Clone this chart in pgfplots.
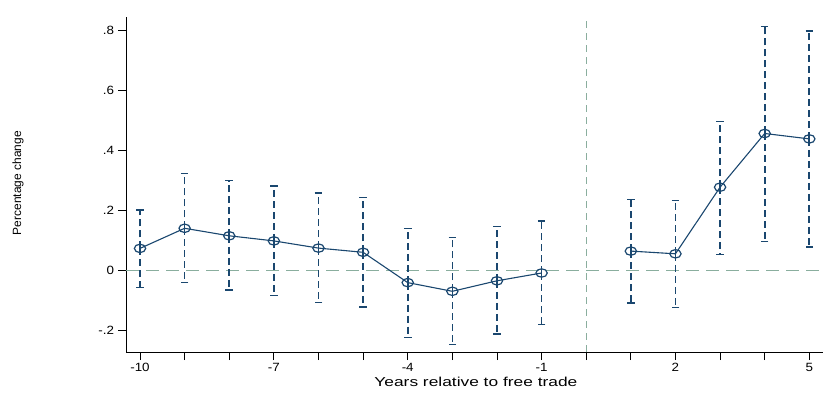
\documentclass[border=0pt]{standalone}
\usepackage{pgfplots}
\usepackage{pgfplotstable}
\pgfplotsset{compat=1.18}
\usepackage{fontspec}
\setmainfont{Liberation Sans}
\definecolor{stnavy}{HTML}{1A476F}
\definecolor{refline}{HTML}{8AAE9E}

% event-study estimates with 95% bounds
\pgfplotstableread{
x   y      lo      hi
-10 0.072 -0.058  0.200
-9  0.139 -0.042  0.322
-8  0.114 -0.067  0.298
-7  0.097 -0.086  0.280
-6  0.073 -0.109  0.257
-5  0.059 -0.123  0.241
-4 -0.042 -0.224  0.139
-3 -0.071 -0.248  0.108
-2 -0.036 -0.213  0.144
-1 -0.010 -0.181  0.163
}\pre
\pgfplotstableread{
x   y      lo      hi
1   0.063 -0.110  0.235
2   0.054 -0.126  0.232
3   0.276  0.052  0.496
4   0.455  0.095  0.812
5   0.437  0.077  0.797
}\post

\pgfplotsset{
  evstyle/.style={
    stnavy, line width=1.1bp,
    mark=o, mark size=4.2bp,
    mark options={solid, line width=1.2bp, xscale=1.35},
    error bars/.cd, y dir=both, y explicit,
    error bar style={dash pattern=on 7bp off 4bp, line width=1.7bp},
    error mark options={solid, rotate=90, mark size=3.8bp, line width=1.3bp},
  },
}

\begin{document}
\begin{tikzpicture}
\path[use as bounding box] (0,0) rectangle (832bp,400bp);
\begin{axis}[
  at={(126bp,48bp)}, anchor=south west,
  scale only axis, width=697bp, height=335bp,
  xmin=-10.314, xmax=5.307, ymin=-0.2733, ymax=0.8433,
  axis lines=left,
  axis line style={-, line width=1bp},
  every outer x axis line/.append style={-},
  every outer y axis line/.append style={-},
  xtick pos=bottom, ytick pos=left,
  tick align=outside, major tick length=8bp,
  tick style={black, line width=0.9bp},
  xtick={-10,...,5},
  xticklabels={-10,,,-7,,,-4,,,-1,,,2,,,5},
  ytick={-0.2,0,0.2,0.4,0.6,0.8},
  yticklabels={-.2,0,.2,.4,.6,.8},
  tick label style={font=\fontsize{12}{12}\selectfont},
  xticklabel style={xscale=1.12},
  yticklabel style={xscale=1.12},
  xlabel={Years relative to free trade},
  xlabel style={at={(axis description cs:0.502,0)}, anchor=base,
    yshift=-34bp, font=\fontsize{13}{13}\selectfont, xscale=1.34},
  ylabel={Percentage change},
  ylabel style={at={(axis description cs:-0.155,0.504)}, anchor=center,
    font=\fontsize{12}{12}\selectfont},
  clip=false,
]
\addplot[refline, line width=1bp, dash pattern=on 13bp off 7bp, forget plot]
  coordinates {(-10.314,0) (5.307,0)};
\addplot[refline, line width=1bp, dash pattern=on 7bp off 5bp, forget plot]
  coordinates {(0,-0.2733) (0,0.8433)};
\addplot[evstyle] table[x=x, y=y,
  y error plus expr=\thisrow{hi}-\thisrow{y},
  y error minus expr=\thisrow{y}-\thisrow{lo}] {\pre};
\addplot[evstyle] table[x=x, y=y,
  y error plus expr=\thisrow{hi}-\thisrow{y},
  y error minus expr=\thisrow{y}-\thisrow{lo}] {\post};
\end{axis}
\end{tikzpicture}
\end{document}
